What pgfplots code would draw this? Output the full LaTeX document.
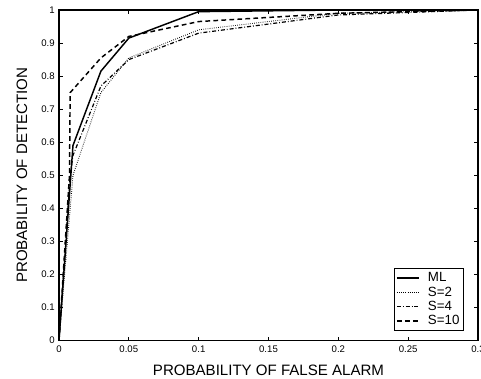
\documentclass[border=0pt]{standalone}
\usepackage{fontspec}
\setmainfont{Liberation Sans}
\usepackage{pgfplots}
\pgfplotsset{compat=1.18}
\begin{document}
\begin{tikzpicture}
\begin{axis}[
  name=ax,
  scale only axis,
  width=314.25pt, height=247.9pt,
  xmin=0, xmax=0.3, ymin=0, ymax=1,
  xtick={0,0.05,0.1,0.15,0.2,0.25,0.3},
  ytick={0,0.1,0.2,0.3,0.4,0.5,0.6,0.7,0.8,0.9,1},
  xticklabels={0,0.05,0.1,0.15,0.2,0.25,0.3},
  yticklabels={0,0.1,0.2,0.3,0.4,0.5,0.6,0.7,0.8,0.9,1},
  tick align=inside,
  major tick length=3pt,
  tick style={black, line width=0.6pt},
  axis line style={line width=0.9pt},
  ticklabel style={font=\fontsize{7.2}{8}\selectfont},
  xticklabel style={yshift=-0.3pt},
  yticklabel style={xshift=0.3pt},
  xlabel={PROBABILITY OF FALSE ALARM},
  ylabel={PROBABILITY OF DETECTION},
  label style={font=\fontsize{11.3}{13}\selectfont},
  xlabel style={at={(axis description cs:0.5,-0.0892)},anchor=center},
  ylabel style={at={(axis description cs:-0.0883,0.5)},anchor=center},
  legend style={at={(axis description cs:0.9666,0.0287)}, anchor=south east,
    font=\fontsize{10}{11}\selectfont, draw=black, line width=0.8pt,
    inner xsep=1pt, inner ysep=1pt, row sep=-1.8pt, cells={anchor=west},
    nodes={inner xsep=2pt}},
  legend image code/.code={\draw[#1] (0.05cm,0cm) -- (0.63cm,0cm); \path (0.78cm,0cm);},
]
\addplot[black, line width=1.1pt] coordinates {(0,0) (0.01,0.59) (0.03,0.815) (0.05,0.915) (0.1,0.995) (0.2,1) (0.3,1)};
\addlegendentry{ML}
\addplot[black, line width=0.7pt, dash pattern=on 0.5pt off 1.1pt] coordinates {(0,0) (0.01,0.50) (0.03,0.75) (0.05,0.855) (0.1,0.94) (0.2,0.99) (0.3,1)};
\addlegendentry{S=2}
\addplot[black, line width=0.9pt, dash pattern=on 3pt off 1.5pt on 0.6pt off 1.5pt] coordinates {(0,0) (0.008,0.5) (0.01,0.56) (0.03,0.77) (0.05,0.85) (0.1,0.93) (0.2,0.985) (0.3,1)};
\addlegendentry{S=4}
\addplot[black, line width=1.1pt, dash pattern=on 3.5pt off 2.5pt] coordinates {(0,0) (0.0075,0.5) (0.008,0.75) (0.03,0.855) (0.05,0.92) (0.1,0.965) (0.2,0.99) (0.3,1)};
\addlegendentry{S=10}
\end{axis}
\pgfresetboundingbox
\path[use as bounding box] ([shift={(-44.25pt,-28.1pt)}]ax.south west) rectangle ([shift={(2.25pt,7.5pt)}]ax.north east);
\end{tikzpicture}
\end{document}
